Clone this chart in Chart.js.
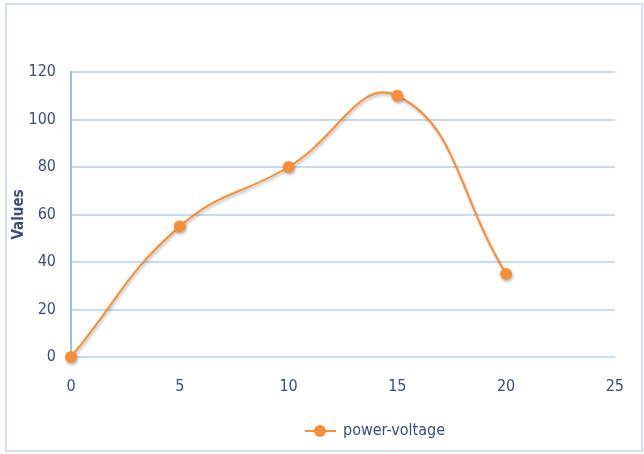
<!DOCTYPE html>
<html>
<head>
<meta charset="utf-8">
<script src="https://cdn.jsdelivr.net/npm/chart.js@4"></script>
<style>
  html, body { margin: 0; padding: 0; background: #ffffff; }
  #wrap { width: 644px; height: 454px; position: relative; }
</style>
</head>
<body>
<div id="wrap"><canvas id="c" width="644" height="454"></canvas></div>
<script>
// power vs voltage readings
const voltage = [0, 5, 10, 15, 20];
const power = [0, 55, 80, 110, 35];
const seriesName = 'power-voltage';
const yTitle = 'Values';

const FONT = "'DejaVu Sans Condensed', 'Liberation Sans Narrow', 'Open Sans', sans-serif";
const TEXT = '#3b4f77';
const GRID = '#c8dbf2';
const AXIS = '#9dbde6';
const ORANGE = '#f58f3c';

// frame around the whole chart
const framePlugin = {
  id: 'frame',
  beforeDraw(chart) {
    const ctx = chart.ctx;
    ctx.save();
    ctx.fillStyle = '#ffffff';
    ctx.fillRect(0, 0, chart.width, chart.height);
    ctx.strokeStyle = '#d3e0f0';
    ctx.lineWidth = 2;
    ctx.strokeRect(6, 4, 636, 447);
    ctx.restore();
  }
};

// soft drop shadow under the series
const shadowPlugin = {
  id: 'shadow',
  beforeDatasetDraw(chart) {
    const ctx = chart.ctx;
    ctx.save();
    ctx.shadowColor = 'rgba(0,0,0,0.28)';
    ctx.shadowBlur = 3;
    ctx.shadowOffsetX = 1;
    ctx.shadowOffsetY = 2;
  },
  afterDatasetDraw(chart) {
    chart.ctx.restore();
  }
};

// series key below the plot: short line with a dot, then the name
const keyPlugin = {
  id: 'seriesKey',
  afterDraw(chart) {
    const ctx = chart.ctx;
    const cx = 320, cy = 431;
    ctx.save();
    ctx.strokeStyle = ORANGE;
    ctx.lineWidth = 2;
    ctx.beginPath();
    ctx.moveTo(cx - 15, cy);
    ctx.lineTo(cx + 16, cy);
    ctx.stroke();
    ctx.fillStyle = ORANGE;
    ctx.beginPath();
    ctx.arc(cx, cy, 6, 0, Math.PI * 2);
    ctx.fill();
    ctx.fillStyle = TEXT;
    ctx.font = '16px ' + FONT;
    ctx.textBaseline = 'middle';
    ctx.textAlign = 'left';
    ctx.fillText(seriesName, 343, cy);
    ctx.restore();
  }
};

new Chart(document.getElementById('c'), {
  type: 'line',
  data: {
    datasets: [{
      label: seriesName,
      data: voltage.map((v, i) => ({ x: v, y: power[i] })),
      borderColor: ORANGE,
      backgroundColor: ORANGE,
      borderWidth: 2,
      pointRadius: 6,
      pointHoverRadius: 6,
      pointBorderWidth: 0,
      pointBackgroundColor: ORANGE,
      tension: 0.45,
      fill: false,
      clip: false
    }]
  },
  options: {
    responsive: false,
    animation: false,
    devicePixelRatio: 1,
    layout: { padding: { left: 0, top: 72, right: 29, bottom: 0 } },
    plugins: {
      legend: { display: false },
      tooltip: { enabled: false }
    },
    scales: {
      x: {
        type: 'linear',
        min: 0,
        max: 25,
        ticks: { stepSize: 5, color: TEXT, font: { family: FONT, size: 16 }, padding: 20 },
        grid: { display: false, drawTicks: false },
        border: { display: false },
        afterFit(s) { s.height = 97; }
      },
      y: {
        min: 0,
        max: 120,
        ticks: { stepSize: 20, color: TEXT, font: { family: FONT, size: 16 }, padding: 15 },
        grid: { color: GRID, lineWidth: 2, drawTicks: false },
        border: { display: true, color: AXIS, width: 2 },
        title: {
          display: true,
          text: yTitle,
          color: TEXT,
          font: { family: FONT, size: 15, weight: 'bold' },
          padding: { top: 10, bottom: 0 }
        },
        afterFit(s) { s.width = 71; }
      }
    }
  },
  plugins: [framePlugin, shadowPlugin, keyPlugin]
});
</script>
</body>
</html>
